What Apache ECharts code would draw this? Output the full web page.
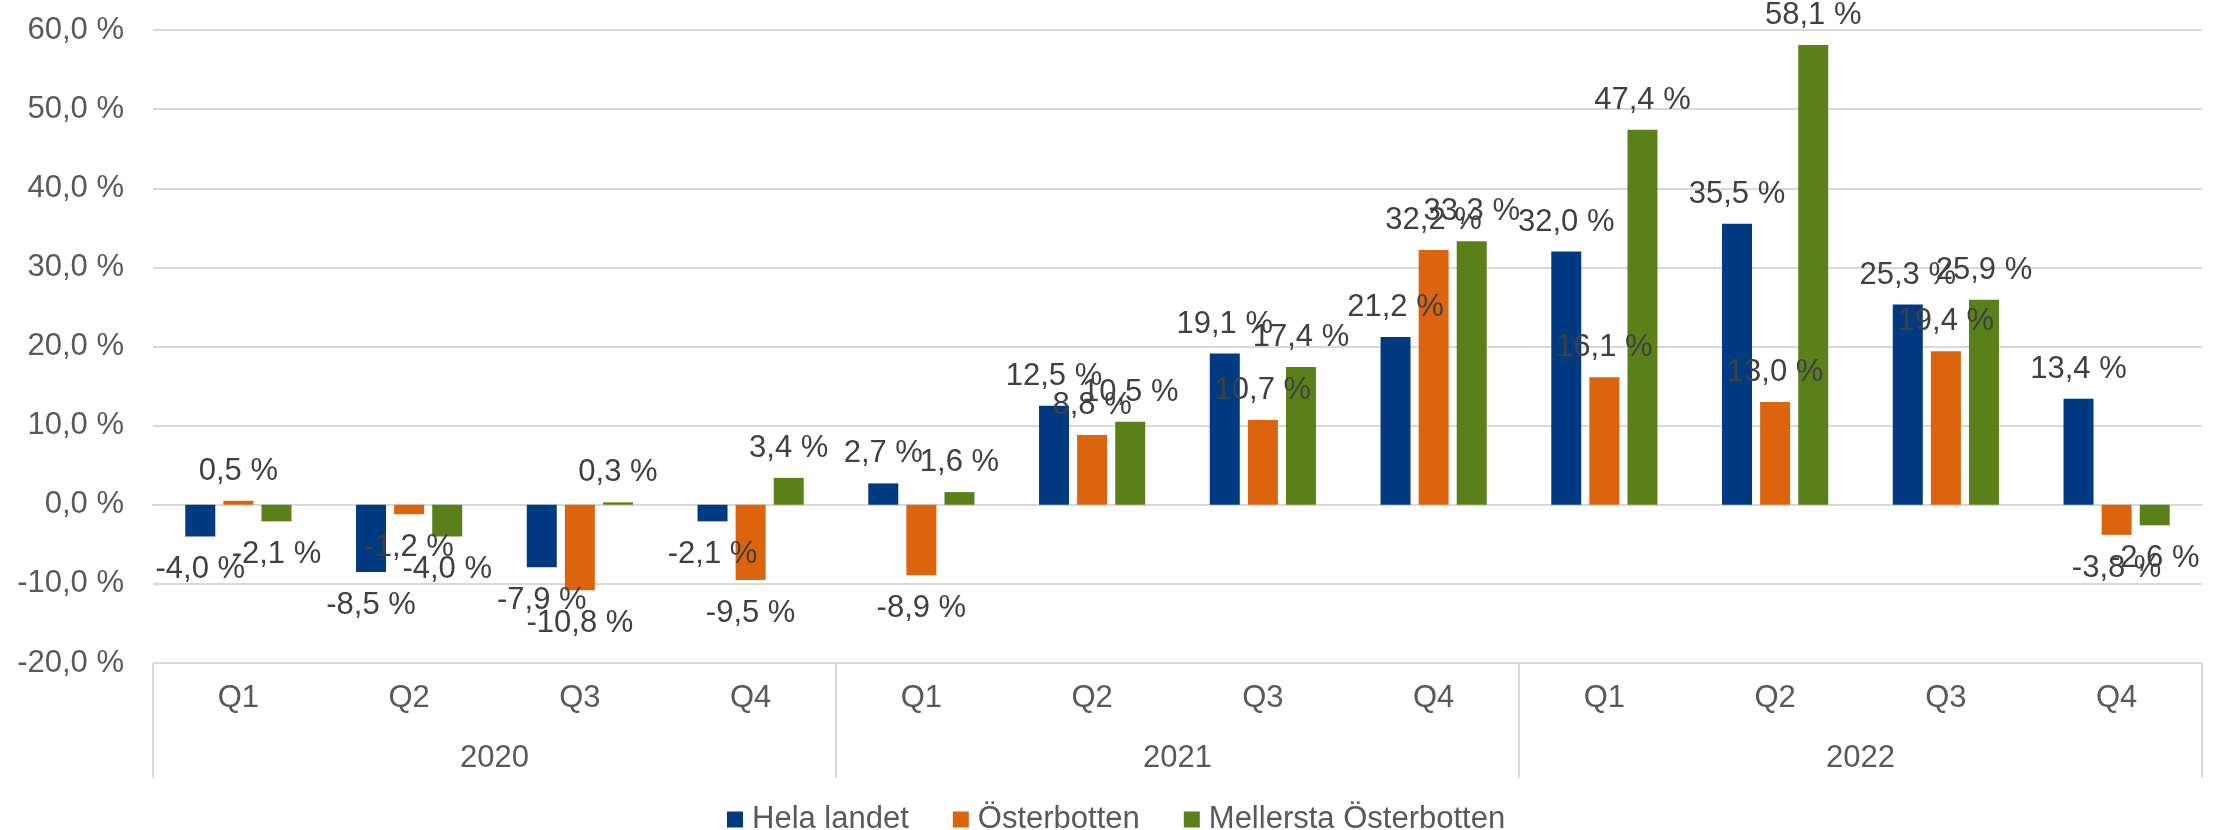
<!DOCTYPE html>
<html>
<head>
<meta charset="utf-8">
<script src="https://cdn.jsdelivr.net/npm/echarts@6/dist/echarts.min.js"></script>
<style>
  html, body { margin: 0; padding: 0; background: #fff; }
  #main { width: 2226px; height: 830px; }
</style>
</head>
<body>
<div id="main"></div>
<script>
var quarters = ['Q1', 'Q2', 'Q3', 'Q4', 'Q1', 'Q2', 'Q3', 'Q4', 'Q1', 'Q2', 'Q3', 'Q4'];
var years = ['2020', '2021', '2022'];
var seriesNames = ['Hela landet', 'Österbotten', 'Mellersta Österbotten'];
var helaLandet = [-4.0, -8.5, -7.9, -2.1, 2.7, 12.5, 19.1, 21.2, 32.0, 35.5, 25.3, 13.4];
var osterbotten = [0.5, -1.2, -10.8, -9.5, -8.9, 8.8, 10.7, 32.2, 16.1, 13.0, 19.4, -3.8];
var mellersta = [-2.1, -4.0, 0.3, 3.4, 1.6, 10.5, 17.4, 33.3, 47.4, 58.1, 25.9, -2.6];
var colors = ['#013A81', '#DC640F', '#5A801A'];

var myChart = echarts.init(document.getElementById('main'));
var font = '"Liberation Sans", Arial, sans-serif';

function pct(v) {
  return v.toFixed(1).replace('.', ',') + ' %';
}

function makeSeries(name, data, color) {
  return {
    name: name,
    type: 'bar',
    xAxisIndex: 0,
    barWidth: 30,
    barGap: '27%',
    itemStyle: { color: color },
    data: data.map(function (v) {
      // labels sit just outside the bar end, like "outside end" in the original
      return {
        value: v,
        label: { position: v < 0 ? 'bottom' : 'top', distance: v < 0 ? 18 : 14 }
      };
    }),
    label: {
      show: true,
      fontFamily: font,
      fontSize: 31,
      color: '#404040',
      formatter: function (p) { return pct(p.value); }
    }
  };
}

var option = {
  backgroundColor: '#fff',
  animation: false,
  textStyle: { fontFamily: font },
  grid: { left: 153, right: 24, top: 30, bottom: 167 },
  legend: {
    left: 722,
    top: 799,
    itemWidth: 16,
    itemHeight: 16,
    itemGap: 44,
    icon: 'rect',
    textStyle: { fontFamily: font, fontSize: 31, color: '#595959', padding: [0, 0, 0, 4] },
    data: seriesNames
  },
  xAxis: [{
    type: 'category',
    data: quarters,
    position: 'bottom',
    axisLine: { show: true, lineStyle: { color: '#d9d9d9', width: 2 } },
    axisTick: { show: false },
    axisLabel: { margin: 20, fontSize: 31, color: '#595959', fontFamily: font }
  }, {
    // year row under the quarters, ticks act as the group separators
    type: 'category',
    data: years,
    position: 'bottom',
    axisLine: { show: false },
    axisTick: { show: true, interval: 0, length: 115, lineStyle: { color: '#d9d9d9', width: 2 } },
    axisLabel: { margin: 80, fontSize: 31, color: '#595959', fontFamily: font }
  }],
  yAxis: {
    type: 'value',
    min: -20,
    max: 60,
    interval: 10,
    axisLine: { show: false },
    axisTick: { show: false },
    splitLine: { lineStyle: { color: '#d9d9d9', width: 2 } },
    axisLabel: {
      margin: 29,
      fontSize: 31,
      color: '#595959',
      fontFamily: font,
      formatter: function (v) { return pct(v); }
    }
  },
  series: [
    makeSeries(seriesNames[0], helaLandet, colors[0]),
    makeSeries(seriesNames[1], osterbotten, colors[1]),
    makeSeries(seriesNames[2], mellersta, colors[2])
  ]
};

myChart.setOption(option);
</script>
</body>
</html>
